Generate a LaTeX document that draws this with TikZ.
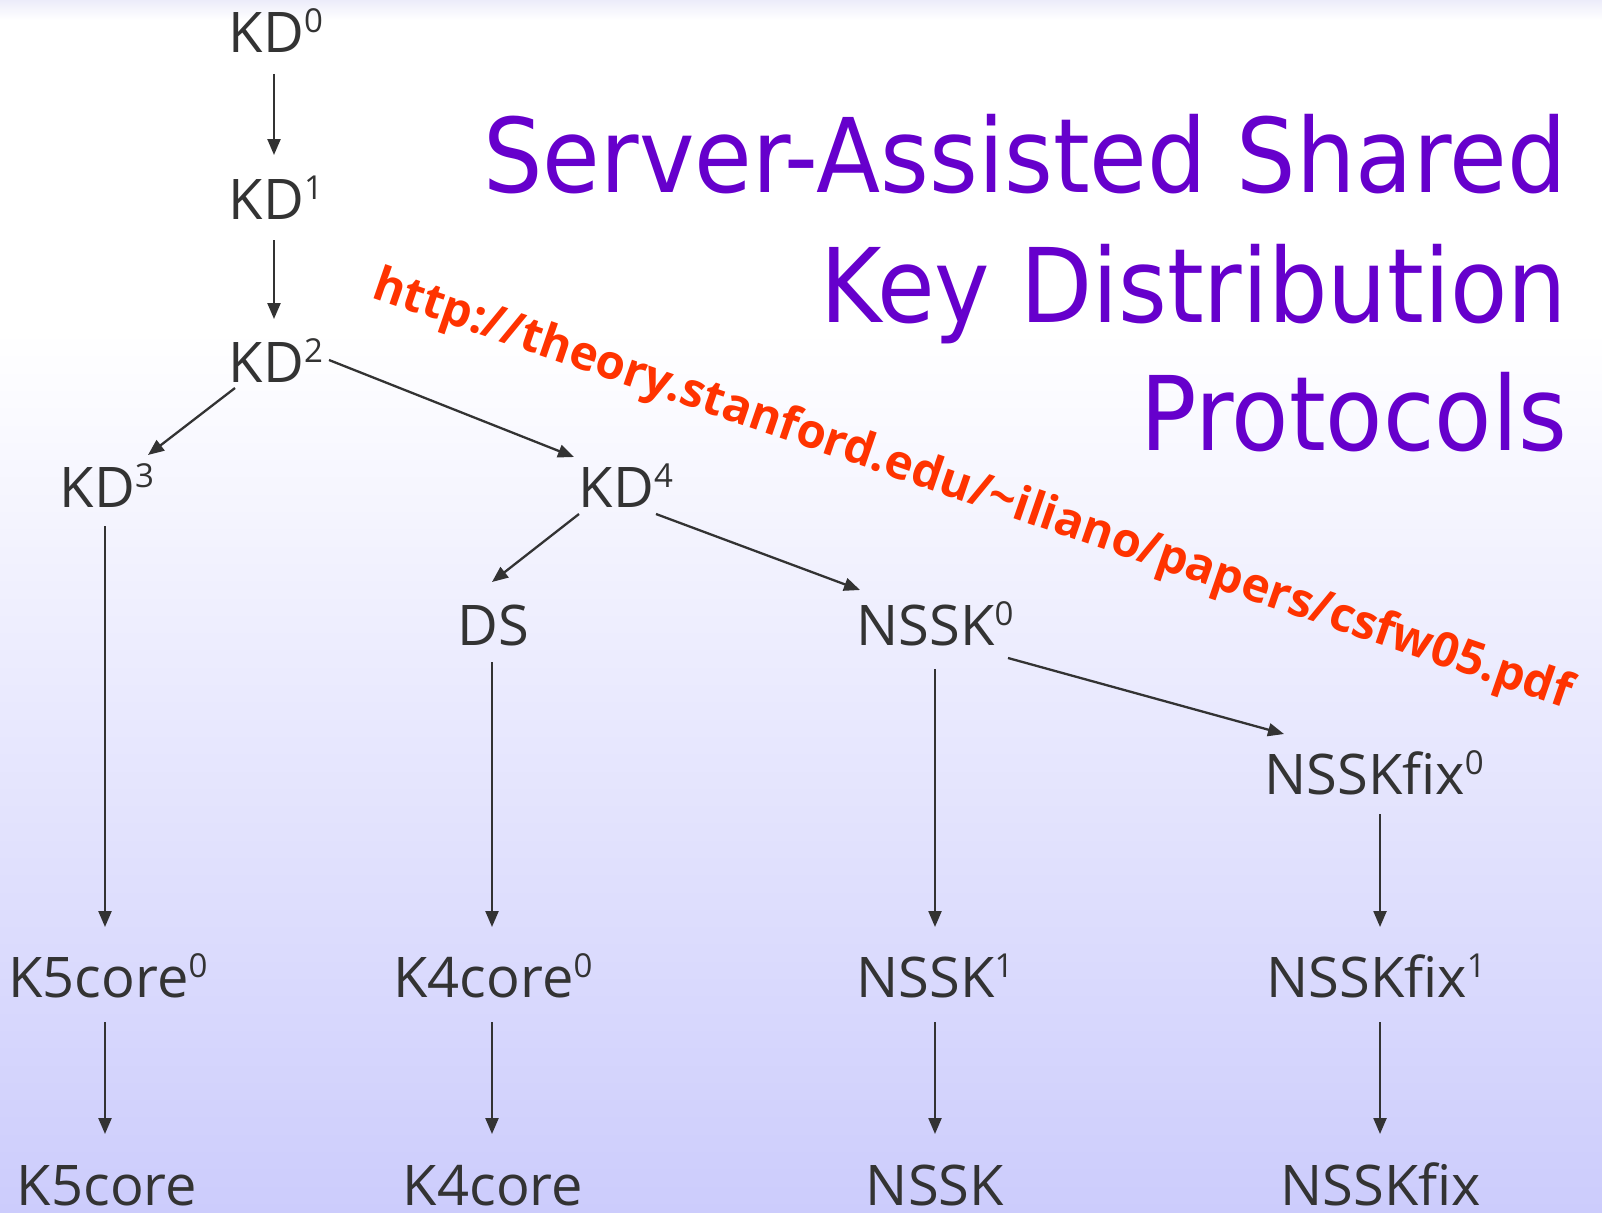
\documentclass[tikz,border=0pt]{standalone}
\usepackage{fontspec}
\usetikzlibrary{arrows.meta}
\newfontfamily\lblfont{Open Sans}
\newfontfamily\urlfont{Open Sans}
\newfontfamily\titlefont[FakeStretch=0.91]{DejaVu Sans}
\definecolor{ink}{RGB}{51,51,51}
\definecolor{titleviolet}{RGB}{102,0,204}
\definecolor{urlred}{RGB}{255,51,0}
\definecolor{bgtop}{RGB}{236,236,250}
\definecolor{bgbot}{RGB}{204,204,252}
\newcommand\supnum[1]{\raisebox{20pt}{\fontsize{33}{33}\selectfont #1}}
\tikzset{
  lbl/.style={font=\lblfont\fontsize{56}{60}\selectfont, text=ink, inner sep=0pt,
              text height=41pt, text depth=0pt, anchor=base},
  arr/.style={draw=ink, line width=2.3pt, -{Triangle[length=16pt,width=13pt]}},
  ttl/.style={font=\titlefont\fontsize{103}{110}\selectfont, text=titleviolet,
              inner sep=0pt, anchor=base east},
}
\begin{document}
\begin{tikzpicture}[x=1pt,y=-1pt]
% page and background
\useasboundingbox (0,0) rectangle (1602,1212);
\fill[top color=bgtop, bottom color=white] (0,0) rectangle (1602,20);
\fill[white] (0,20) rectangle (1602,330);
\fill[top color=white, bottom color=bgbot] (0,330) rectangle (1602,1212);

% title
\node[ttl] (t1) at (1567,192) {Server-Assisted Shared};
\node[ttl] (t2) at (1567,322) {Key Distribution};
\node[ttl] (t3) at (1567,450) {Protocols};

% reference link
\node[font=\urlfont\bfseries\fontsize{47.5}{50}\selectfont, text=urlred, inner sep=0pt,
      anchor=base west, rotate=-19] (url) at (370,297)
      {http://theory.stanford.edu/\char`\~iliano/papers/csfw05.pdf};

% protocol nodes
\node[lbl] (KD0) at (276,53) {KD\supnum{0}};
\node[lbl] (KD1) at (276,219) {KD\supnum{1}};
\node[lbl] (KD2) at (276,382) {KD\supnum{2}};
\node[lbl] (KD3) at (107,507) {KD\supnum{3}};
\node[lbl] (KD4) at (626,507) {KD\supnum{4}};
\node[lbl] (DS) at (493,645) {DS};
\node[lbl] (NSSK0) at (935,645) {NSSK\supnum{0}};
\node[lbl] (NSSKfix0) at (1374,794) {NSSKfix\supnum{0}};
\node[lbl] (K5core0) at (108,997) {K5core\supnum{0}};
\node[lbl] (K4core0) at (493,997) {K4core\supnum{0}};
\node[lbl] (NSSK1) at (935,997) {NSSK\supnum{1}};
\node[lbl] (NSSKfix1) at (1376,997) {NSSKfix\supnum{1}};
\node[lbl] (K5core) at (107,1205) {K5core};
\node[lbl] (K4core) at (493,1205) {K4core};
\node[lbl] (NSSK) at (935,1205) {NSSK};
\node[lbl] (NSSKfix) at (1381,1205) {NSSKfix};

% refinement arrows
\draw[arr] ([shift={(-2,41.5)}]KD0.center) -- ([shift={(-2,-43.5)}]KD1.center);
\draw[arr] ([shift={(-2,41.5)}]KD1.center) -- ([shift={(-2,-42.5)}]KD2.center);
\draw[arr] ([shift={(-41,26.5)}]KD2.center) -- ([shift={(41,-31.5)}]KD3.center);
\draw[arr] ([shift={(53,-1.5)}]KD2.center) -- ([shift={(-52,-29.5)}]KD4.center);
\draw[arr] ([shift={(-2,39.5)}]KD3.center) -- ([shift={(-3,-49.5)}]K5core0.center);
\draw[arr] ([shift={(-47,27.5)}]KD4.center) -- ([shift={(-1,-42.5)}]DS.center);
\draw[arr] ([shift={(30,27.5)}]KD4.center) -- ([shift={(-75,-34.5)}]NSSK0.center);
\draw[arr] ([shift={(-1,37.5)}]DS.center) -- ([shift={(-1,-49.5)}]K4core0.center);
\draw[arr] ([shift={(0,44.5)}]NSSK0.center) -- ([shift={(0,-49.5)}]NSSK1.center);
\draw[arr] ([shift={(73,33.5)}]NSSK0.center) -- ([shift={(-90,-39.5)}]NSSKfix0.center);
\draw[arr] ([shift={(6,40.5)}]NSSKfix0.center) -- ([shift={(4,-49.5)}]NSSKfix1.center);
\draw[arr] ([shift={(-3,45.5)}]K5core0.center) -- ([shift={(-2,-50.5)}]K5core.center);
\draw[arr] ([shift={(-1,45.5)}]K4core0.center) -- ([shift={(-1,-50.5)}]K4core.center);
\draw[arr] ([shift={(0,45.5)}]NSSK1.center) -- ([shift={(0,-50.5)}]NSSK.center);
\draw[arr] ([shift={(4,45.5)}]NSSKfix1.center) -- ([shift={(-1,-50.5)}]NSSKfix.center);
\end{tikzpicture}
\end{document}
